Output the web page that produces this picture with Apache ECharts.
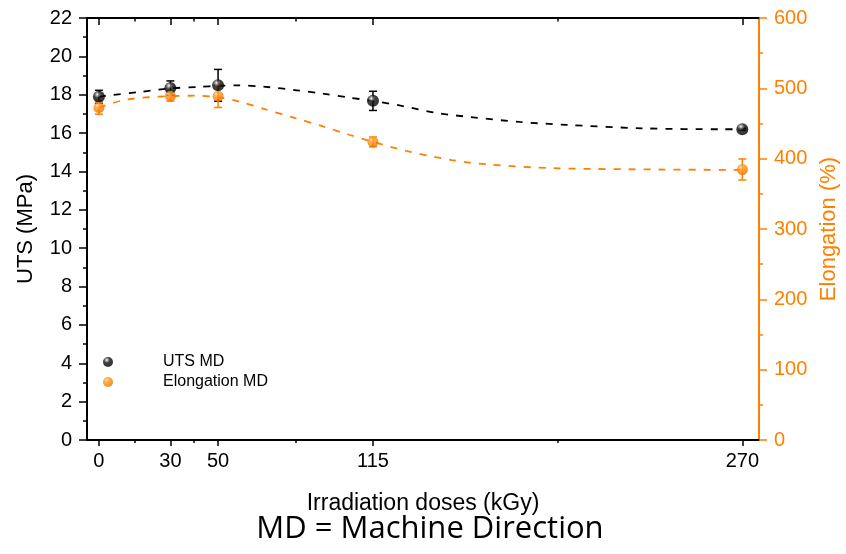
<!DOCTYPE html>
<html>
<head>
<meta charset="utf-8">
<script src="https://cdn.jsdelivr.net/npm/echarts@6/dist/echarts.min.js"></script>
<style>
  html, body { margin: 0; padding: 0; background: #fff; }
  #chart { width: 846px; height: 554px; }
</style>
</head>
<body>
<div id="chart"></div>
<script>
// irradiation doses (kGy) and the minor tick positions between them
const doses = [0, 30, 50, 115, 270];
const minorDoses = [15, 40, 82.5, 192.5];

// measured points + error (half length of the bar)
const utsMD = [17.89, 18.35, 18.49, 17.68, 16.2];
const utsErr = [0.34, 0.37, 0.83, 0.5, 0.05];
const elongMD = [472.7, 488.8, 488.8, 423.8, 384.6];
const elongErr = [9.5, 7, 16, 7, 15];

// dashed fit curves
const utsFitX = [0, 4.5, 17, 30, 42, 50, 58, 70, 83, 94, 105, 115, 127.5, 141.7, 155.6, 176.5, 196.3, 228, 262, 270];
const utsFitY = [17.89, 17.97, 18.14, 18.33, 18.41, 18.46, 18.49, 18.41, 18.23, 18.06, 17.85, 17.68, 17.41, 17.05, 16.84, 16.58, 16.43, 16.25, 16.2, 16.2];
const elongFitX = [0, 11.5, 30, 40, 50, 59, 70, 82, 94, 105, 115, 129, 148, 163, 190, 235, 270];
const elongFitY = [472.7, 484, 489, 489.5, 487.5, 481, 470, 458, 446, 434, 424, 411, 398, 392, 386.5, 384.6, 384];

const FONT = '"Liberation Sans", Arial, sans-serif';
const ORANGE = '#ff8000';

const zip = (xs, ys) => xs.map((x, i) => [x, ys[i]]);
const bars = (ys, es) => doses.map((x, i) => [x, ys[i] - es[i], ys[i] + es[i]]);

// little vertical bar with caps, drawn through the axes
function errorBar(color) {
    return function (params, api) {
        const x = api.value(0);
        const lo = api.coord([x, api.value(1)]);
        const hi = api.coord([x, api.value(2)]);
        const half = 4;
        const style = { stroke: color, lineWidth: 1.5 };
        return {
            type: 'group',
            children: [
                { type: 'line', shape: { x1: lo[0], y1: lo[1], x2: hi[0], y2: hi[1] }, style },
                { type: 'line', shape: { x1: hi[0] - half, y1: hi[1], x2: hi[0] + half, y2: hi[1] }, style },
                { type: 'line', shape: { x1: lo[0] - half, y1: lo[1], x2: lo[0] + half, y2: lo[1] }, style }
            ]
        };
    };
}

const sphereBlack = {
    type: 'radial', x: 0.38, y: 0.3, r: 0.7,
    colorStops: [
        { offset: 0, color: '#ffffff' },
        { offset: 0.16, color: '#9a9a9a' },
        { offset: 0.42, color: '#111111' },
        { offset: 1, color: '#000000' }
    ]
};
const sphereOrange = {
    type: 'radial', x: 0.38, y: 0.3, r: 0.7,
    colorStops: [
        { offset: 0, color: '#ffe2bf' },
        { offset: 0.25, color: '#ffa030' },
        { offset: 0.7, color: '#ff8000' },
        { offset: 1, color: '#e56f00' }
    ]
};

const xRange = { min: -5, max: 277 };
const blackLine = { show: true, onZero: false, lineStyle: { color: '#000', width: 2 } };

const chart = echarts.init(document.getElementById('chart'));
chart.setOption({
    animation: false,
    backgroundColor: '#fff',
    grid: { left: 87, right: 87, top: 18, bottom: 114, outerBoundsMode: 'none' },
    legend: {
        orient: 'vertical',
        left: 98,
        top: 349,
        itemWidth: 10,
        itemHeight: 10,
        itemGap: 4,
        data: ['UTS MD', 'Elongation MD'],
        textStyle: { fontFamily: FONT, fontSize: 16, color: '#000', padding: [0, 0, 0, 45] }
    },
    xAxis: [
        {   // bottom, labelled
            type: 'value', position: 'bottom', ...xRange,
            axisLine: blackLine,
            axisTick: { show: true, inside: false, length: 6, customValues: doses, lineStyle: { color: '#000', width: 1.5 } },
            axisLabel: { customValues: doses, margin: 11, fontFamily: FONT, fontSize: 20, color: '#000' },
            splitLine: { show: false },
            name: 'Irradiation doses (kGy)',
            nameLocation: 'middle',
            nameGap: 52,
            nameTextStyle: { fontFamily: FONT, fontSize: 23, color: '#000' }
        },
        {   // bottom minor ticks
            type: 'value', position: 'bottom', ...xRange,
            axisLine: { show: false, onZero: false },
            axisTick: { show: true, length: 3, customValues: minorDoses, lineStyle: { color: '#000', width: 1.5 } },
            axisLabel: { show: false },
            splitLine: { show: false }
        },
        {   // top mirror
            type: 'value', position: 'top', ...xRange,
            axisLine: blackLine,
            axisTick: { show: true, inside: true, length: 7, customValues: doses, lineStyle: { color: '#000', width: 1.5 } },
            axisLabel: { show: false },
            splitLine: { show: false }
        },
        {
            type: 'value', position: 'top', ...xRange,
            axisLine: { show: false, onZero: false },
            axisTick: { show: true, inside: true, length: 3.5, customValues: minorDoses, lineStyle: { color: '#000', width: 1.5 } },
            axisLabel: { show: false },
            splitLine: { show: false }
        }
    ],
    yAxis: [
        {
            type: 'value', position: 'left', min: 0, max: 22, interval: 2,
            axisLine: blackLine,
            axisTick: { show: true, length: 8, lineStyle: { color: '#000', width: 1.5 } },
            minorTick: { show: true, splitNumber: 2, length: 4, lineStyle: { color: '#000', width: 1.5 } },
            axisLabel: { margin: 15, fontFamily: FONT, fontSize: 20, color: '#000' },
            splitLine: { show: false },
            name: 'UTS (MPa)',
            nameLocation: 'middle',
            nameRotate: 90,
            nameGap: 50,
            nameTextStyle: { fontFamily: FONT, fontSize: 22, color: '#000' }
        },
        {
            type: 'value', position: 'right', min: 0, max: 600, interval: 100,
            axisLine: { show: true, onZero: false, lineStyle: { color: ORANGE, width: 2 } },
            axisTick: { show: true, length: 8, lineStyle: { color: ORANGE, width: 1.5 } },
            minorTick: { show: true, splitNumber: 2, length: 4, lineStyle: { color: ORANGE, width: 1.5 } },
            axisLabel: { margin: 15, fontFamily: FONT, fontSize: 20, color: ORANGE },
            splitLine: { show: false },
            name: 'Elongation (%)',
            nameLocation: 'middle',
            nameRotate: 90,
            nameGap: 59,
            nameTextStyle: { fontFamily: FONT, fontSize: 22, color: ORANGE }
        }
    ],
    graphic: [{
        type: 'text',
        x: 430,
        y: 529,
        style: {
            text: 'MD = Machine Direction',
            font: '31px "Open Sans", "Noto Sans", sans-serif',
            fill: '#000',
            align: 'center',
            verticalAlign: 'middle'
        }
    }],
    series: [
        {
            name: 'UTS fit', type: 'line', xAxisIndex: 0, yAxisIndex: 0,
            data: zip(utsFitX, utsFitY), smooth: 0.3, showSymbol: false, silent: true,
            lineStyle: { color: '#000', width: 1.8, type: [7, 8] }, z: 2
        },
        {
            name: 'Elongation fit', type: 'line', xAxisIndex: 0, yAxisIndex: 1,
            data: zip(elongFitX, elongFitY), smooth: 0.3, showSymbol: false, silent: true,
            lineStyle: { color: ORANGE, width: 1.8, type: [7, 8] }, z: 2
        },
        {
            name: 'UTS err', type: 'custom', xAxisIndex: 0, yAxisIndex: 0,
            data: bars(utsMD, utsErr), encode: { x: 0, y: [1, 2] },
            renderItem: errorBar('#000'), z: 3
        },
        {
            name: 'Elongation err', type: 'custom', xAxisIndex: 0, yAxisIndex: 1,
            data: bars(elongMD, elongErr), encode: { x: 0, y: [1, 2] },
            renderItem: errorBar(ORANGE), z: 4
        },
        {
            name: 'UTS MD', type: 'scatter', xAxisIndex: 0, yAxisIndex: 0,
            data: zip(doses, utsMD), symbol: 'circle', symbolSize: 12,
            itemStyle: { color: sphereBlack }, z: 5
        },
        {
            name: 'Elongation MD', type: 'scatter', xAxisIndex: 0, yAxisIndex: 1,
            data: zip(doses, elongMD), symbol: 'circle', symbolSize: 11,
            itemStyle: { color: sphereOrange }, z: 6
        }
    ]
});
</script>
</body>
</html>
